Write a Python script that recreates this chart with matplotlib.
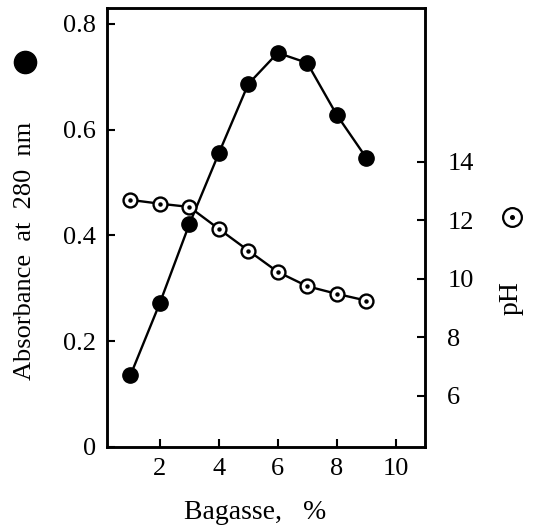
import matplotlib
matplotlib.use('Agg')
import matplotlib.pyplot as plt
from matplotlib.lines import Line2D

plt.rcParams['font.family'] = ['Liberation Serif', 'DejaVu Serif']

# data
bagasse = [1, 2, 3, 4, 5, 6, 7, 8, 9]
absorbance = [0.135, 0.272, 0.421, 0.555, 0.686, 0.745, 0.726, 0.628, 0.547]
ph = [12.69, 12.56, 12.45, 11.70, 10.96, 10.23, 9.74, 9.48, 9.25]

x_ticks = [2, 4, 6, 8, 10]
abs_ticks = [0, 0.2, 0.4, 0.6, 0.8]
abs_labels = ['0', '0.2', '0.4', '0.6', '0.8']
ph_ticks = [6, 8, 10, 12, 14]

fig = plt.figure(figsize=(5.34, 5.27), dpi=100)
ax = fig.add_axes([0.200, 0.152, 0.596, 0.833])
ax2 = ax.twinx()

ax.plot(bagasse, absorbance, color='black', lw=1.7, marker='o', ms=11,
        mfc='black', mec='black', zorder=3)
ax2.plot(bagasse, ph, color='black', lw=1.7, marker='o', ms=10,
         mfc='white', mec='black', mew=1.7, zorder=3)
ax2.plot(bagasse, ph, ls='none', marker='o', ms=2.2, color='black', zorder=4)

ax.set_xlim(0.2, 11.0)
ax.set_ylim(0, 0.83)
ax2.set_ylim(4.25, 19.25)

ax.set_xticks(x_ticks)
ax.set_yticks(abs_ticks)
ax.set_yticklabels(abs_labels)
ax2.set_yticks(ph_ticks)

ax.tick_params(axis='both', direction='in', length=6, width=1.5, labelsize=19, pad=8)
ax.tick_params(axis='y', left=True, right=False)
ax2.tick_params(axis='y', direction='in', length=6, width=1.5, labelsize=19, pad=16)

for a in (ax, ax2):
    for s in a.spines.values():
        s.set_linewidth(1.8)

fig.text(0.478, 0.016, 'Bagasse,   %', fontsize=20, ha='center', va='baseline')
fig.text(0.047, 0.524, 'Absorbance  at  280  nm', rotation=90, fontsize=19,
         ha='center', va='center')
fig.text(0.958, 0.435, 'pH', rotation=90, fontsize=20, ha='center', va='center')

# symbol keys beside the axis titles
fig.add_artist(Line2D([0.047], [0.882], marker='o', ms=16, color='black',
                      transform=fig.transFigure))
fig.add_artist(Line2D([0.958], [0.588], marker='o', ms=13.5, mfc='white',
                      mec='black', mew=1.6, transform=fig.transFigure))
fig.add_artist(Line2D([0.958], [0.588], marker='o', ms=2.6, color='black',
                      transform=fig.transFigure))

fig.savefig('out.png', dpi=100)
